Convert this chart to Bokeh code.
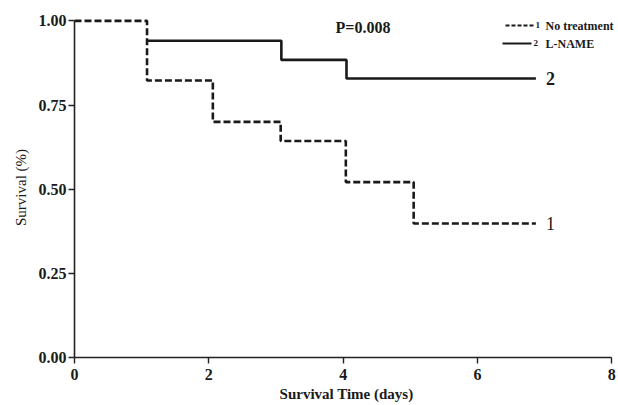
from bokeh.plotting import figure
from bokeh.models import Range1d, FixedTicker, Label, Arrow, NumeralTickFormatter
from bokeh.embed import file_html
from bokeh.resources import INLINE

# Data
no_treat_days = [0.0, 1.08, 2.06, 3.07, 4.04, 5.05, 6.87]
no_treat_surv = [1.00, 0.823, 0.700, 0.643, 0.521, 0.398, 0.398]
lname_days = [1.08, 3.08, 4.05, 6.87]
lname_surv = [0.941, 0.884, 0.829, 0.829]
x_ticks = [0, 2, 4, 6, 8]
y_ticks = [0.0, 0.25, 0.5, 0.75, 1.0]
p_value_text = "P=0.008"

SERIF = "Liberation Serif"

p = figure(width=618, height=405, output_backend="svg", toolbar_location=None,
           x_range=Range1d(0, 8.1), y_range=Range1d(0, 1.01),
           min_border_left=74, min_border_right=0, min_border_top=17, min_border_bottom=48)
p.outline_line_color = None
p.xgrid.visible = False
p.ygrid.visible = False
p.background_fill_color = "white"
p.border_fill_color = "white"

for ax in (p.xaxis[0], p.yaxis[0]):
    ax.axis_line_color = "#222222"
    ax.axis_line_width = 1.6
    ax.major_tick_line_color = "#222222"
    ax.major_tick_line_width = 1.4
    ax.major_tick_out = 6
    ax.major_tick_in = 0
    ax.minor_tick_line_color = None
    ax.major_label_text_font = SERIF
    ax.major_label_text_font_style = "bold"
    ax.major_label_text_font_size = "16px"
    ax.major_label_text_color = "#1a1a1a"
    ax.axis_label_text_font = SERIF
    ax.axis_label_text_color = "#1a1a1a"

p.xaxis.ticker = FixedTicker(ticks=x_ticks)
p.yaxis.ticker = FixedTicker(ticks=y_ticks)
p.xaxis.bounds = (x_ticks[0], x_ticks[-1])
p.yaxis.bounds = (y_ticks[0], y_ticks[-1])
p.yaxis.formatter = NumeralTickFormatter(format="0.00")
p.xaxis.major_label_standoff = 5
p.yaxis.major_label_standoff = 2

p.xaxis.axis_label = "Survival Time (days)"
p.xaxis.axis_label_text_font_style = "bold"
p.xaxis.axis_label_text_font_size = "15px"
p.xaxis.axis_label_standoff = 3

p.yaxis.axis_label = "Survival (%)"
p.yaxis.axis_label_text_font_style = "normal"
p.yaxis.axis_label_text_font_size = "15px"
p.yaxis.axis_label_standoff = 7

# Curves
p.step(no_treat_days, no_treat_surv, mode="after", line_color="#1a1a1a",
       line_width=2.6, line_dash="7 3")
p.step(lname_days, lname_surv, mode="after", line_color="#1a1a1a", line_width=2.6)

# Curve end labels
p.add_layout(Label(x=no_treat_days[-1], y=no_treat_surv[-1], text="1", x_offset=10,
                   text_baseline="middle", text_font=SERIF, text_font_size="18px",
                   text_color="#1a1a1a"))
p.add_layout(Label(x=lname_days[-1], y=lname_surv[-1], text="2", x_offset=10,
                   text_baseline="middle", text_font=SERIF, text_font_size="18px",
                   text_font_style="bold", text_color="#1a1a1a"))

# P value
p.add_layout(Label(x=261, y=330, x_units="screen", y_units="screen", text=p_value_text,
                   text_baseline="middle", text_font=SERIF, text_font_size="16px",
                   text_font_style="bold", text_color="#1a1a1a"))

# Legend (manual)
p.add_layout(Arrow(end=None, x_start=431, y_start=332, x_end=459, y_end=332,
                   start_units="screen", end_units="screen",
                   line_color="#1a1a1a", line_width=2, line_dash="4 2"))
p.add_layout(Arrow(end=None, x_start=428, y_start=314, x_end=457, y_end=314,
                   start_units="screen", end_units="screen",
                   line_color="#1a1a1a", line_width=2))
p.add_layout(Label(x=461, y=333, x_units="screen", y_units="screen", text="1",
                   text_baseline="middle", text_font=SERIF, text_font_size="9px",
                   text_font_style="bold", text_color="#1a1a1a"))
p.add_layout(Label(x=459, y=315, x_units="screen", y_units="screen", text="2",
                   text_baseline="middle", text_font=SERIF, text_font_size="9px",
                   text_font_style="bold", text_color="#1a1a1a"))
p.add_layout(Label(x=471, y=332, x_units="screen", y_units="screen", text="No treatment",
                   text_baseline="middle", text_font=SERIF, text_font_size="12px",
                   text_font_style="bold", text_color="#1a1a1a"))
p.add_layout(Label(x=471, y=314, x_units="screen", y_units="screen", text="L-NAME",
                   text_baseline="middle", text_font=SERIF, text_font_size="12px",
                   text_font_style="bold", text_color="#1a1a1a"))

open("out.html", "w").write(file_html(p, INLINE))
